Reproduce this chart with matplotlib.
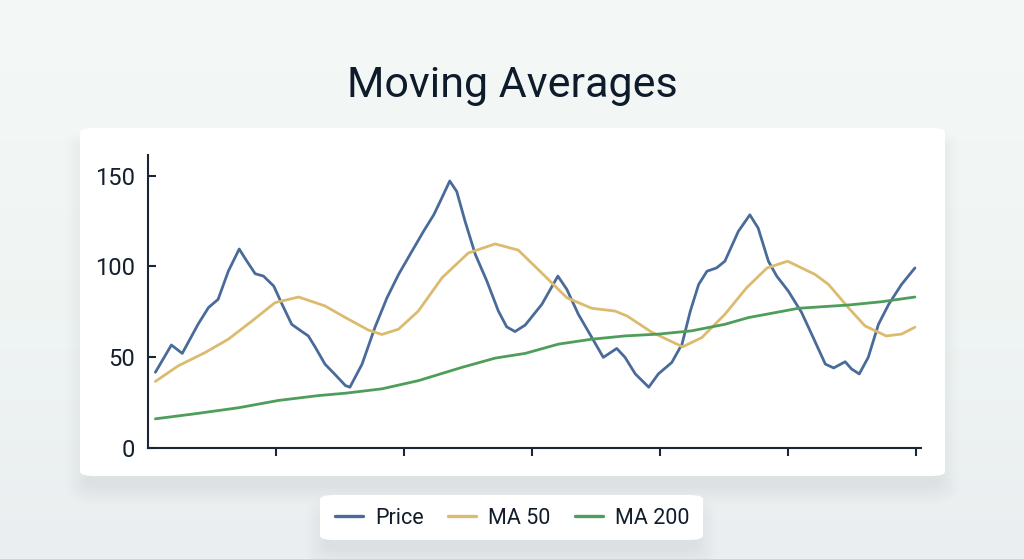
import numpy as np
import matplotlib.pyplot as plt
from matplotlib.patches import FancyBboxPatch
from matplotlib.colors import LinearSegmentedColormap

plt.rcParams['font.family'] = ['Roboto', 'DejaVu Sans']

# price series (day, value)
price_days = [1.2, 3.7, 5.4, 7.9, 9.5, 11.0, 12.6, 14.3, 15.5, 16.8, 18.1, 19.7,
              21.0, 22.5, 24.1, 25.1, 26.2, 27.7, 29.3, 30.9, 31.6, 33.5, 35.5,
              37.4, 39.2, 41.3, 43.1, 44.7, 45.7, 47.2, 48.3, 49.6, 51.2, 53.0,
              54.8, 56.1, 57.4, 59.0, 61.6, 64.1, 65.5, 67.3, 69.1, 71.2, 73.3,
              74.6, 76.2, 78.3, 79.8, 81.9, 83.5, 84.8, 86.1, 87.4, 88.9, 90.2,
              92.3, 94.1, 95.4, 97.0, 98.3, 100.1, 102.2, 104.0, 105.9, 107.2,
              109.0, 110.0, 111.2, 112.6, 114.2, 115.8, 117.8, 119.9]
price = [41.8, 56.8, 52.2, 68.4, 77.4, 81.9, 97.4, 109.6, 102.9, 96.0, 94.7, 89.2,
         79.2, 68.2, 64.2, 61.8, 55.5, 46.3, 40.5, 34.5, 33.6, 46.3, 66.4,
         82.8, 95.6, 108.4, 119.3, 128.4, 135.7, 147.0, 141.2, 124.8, 106.6, 92.0,
         75.5, 66.8, 64.2, 67.8, 79.2, 94.7, 87.4, 73.7, 62.8, 50.0, 54.9,
         50.0, 40.9, 33.6, 40.9, 47.2, 57.3, 75.5, 90.1, 97.4, 99.2, 102.9,
         119.3, 128.4, 121.1, 102.9, 94.7, 86.5, 74.6, 60.9, 46.3, 44.2,
         47.6, 43.6, 40.9, 50.0, 68.2, 79.2, 90.1, 99.2]

ma50_days = [1.2, 4.8, 9.0, 12.6, 16.3, 19.9, 23.6, 27.7, 30.9, 34.5, 36.6, 39.2,
             42.3, 46.0, 50.1, 54.3, 57.9, 61.3, 65.5, 69.4, 73.0, 74.9, 78.7,
             83.6, 86.6, 90.2, 93.6, 96.8, 100.0, 104.3, 106.4, 109.5, 112.1,
             115.4, 117.8, 119.9]
ma50 = [36.8, 45.4, 52.7, 60.0, 70.0, 80.1, 83.2, 78.3, 71.9, 65.0, 62.6, 65.5,
        75.5, 93.8, 107.4, 112.4, 109.0, 97.4, 82.8, 77.0, 75.5, 72.8, 64.0,
        55.8, 60.9, 73.7, 88.3, 99.2, 102.9, 95.6, 90.1, 77.3, 67.3,
        61.8, 62.8, 66.6]

ma200_days = [1.2, 7.4, 14.2, 20.4, 26.7, 30.9, 36.6, 42.3, 49.1, 54.3, 59.0,
              64.2, 69.4, 74.6, 79.8, 85.0, 90.2, 93.9, 101.7, 109.5, 114.7, 119.9]
ma200 = [16.2, 19.0, 22.3, 26.3, 29.0, 30.3, 32.7, 37.2, 44.5, 49.6, 52.2,
         57.3, 60.0, 61.8, 62.8, 64.6, 68.2, 71.9, 77.0, 78.8, 80.6, 83.2]

y_ticks = [0, 50, 100, 150]
x_ticks = [20, 40, 60, 80, 100, 120]

W, H = 1024, 559
fig = plt.figure(figsize=(W / 100, H / 100), dpi=100)

# background gradient
bg = fig.add_axes([0, 0, 1, 1], zorder=-10)
cmap = LinearSegmentedColormap.from_list('bg', ['#f4f9f8', '#f0f5f4', '#eaeef0'])
bg.imshow(np.linspace(0, 1, 256).reshape(-1, 1), aspect='auto', cmap=cmap,
          extent=[0, 1, 0, 1], origin='upper')
bg.set_xlim(0, 1)
bg.set_ylim(0, 1)
bg.axis('off')


def card(x0, y0, x1, y1, rad):
    # soft shadow, mostly below the card
    for i in range(14):
        grow = i * 1.5
        bg.add_patch(FancyBboxPatch(((x0 + 6 - grow) / W, 1 - (y1 + 10 + grow) / H),
                                    (x1 - x0 - 12 + 2 * grow) / W, (y1 - y0 - 10 + 2 * grow) / H,
                                    boxstyle='round,pad=0,rounding_size=%f' % ((rad + grow) / H),
                                    fc='#8f9ba6', ec='none', alpha=0.008,
                                    transform=bg.transAxes, mutation_aspect=H / W))
    bg.add_patch(FancyBboxPatch((x0 / W, 1 - y1 / H), (x1 - x0) / W, (y1 - y0) / H,
                                boxstyle='round,pad=0,rounding_size=%f' % (rad / H),
                                fc='white', ec='none', transform=bg.transAxes,
                                mutation_aspect=H / W))


card(80, 128, 945, 476, 8)
card(320, 495, 703, 540, 8)

fig.text(0.5, 1 - 86 / H, 'Moving Averages', ha='center', va='center',
         fontsize=31, color='#0d1b2a')

ax = fig.add_axes([147.7 / W, 1 - 448.3 / H, 773 / W, 293.3 / H])
ax.patch.set_alpha(0)
line_kw = dict(lw=2.0, solid_joinstyle='round', solid_capstyle='round')
ax.plot(price_days, price, color='#4a6b9a', label='Price', **line_kw)
ax.plot(ma50_days, ma50, color='#dbbb6e', label='MA 50', **line_kw)
ax.plot(ma200_days, ma200, color='#4f9d5b', label='MA 200', **line_kw)

ax.set_xlim(0, 120.8)
ax.set_ylim(0, 161.3)
ax.set_yticks(y_ticks)
ax.set_xticks(x_ticks)
ax.set_xticklabels([])
for s in ['top', 'right']:
    ax.spines[s].set_visible(False)
for s in ['left', 'bottom']:
    ax.spines[s].set_color('#1b2635')
    ax.spines[s].set_linewidth(1.5)
ax.tick_params(axis='y', direction='in', length=6, width=1.5, color='#1b2635',
               labelsize=17, labelcolor='#141f2d', pad=9)
ax.tick_params(axis='x', direction='out', length=6, width=1.5, color='#1b2635')

handles, labels = ax.get_legend_handles_labels()
leg = fig.legend(handles, labels, loc='center', bbox_to_anchor=(512.5 / W, 1 - 518 / H),
                 ncol=3, frameon=False, fontsize=15.5, handlelength=1.3,
                 handletextpad=0.55, columnspacing=1.15)
for t in leg.get_texts():
    t.set_color('#111d2b')
for h in leg.get_lines():
    h.set_linewidth(2.4)

fig.savefig('out.png', dpi=100)
